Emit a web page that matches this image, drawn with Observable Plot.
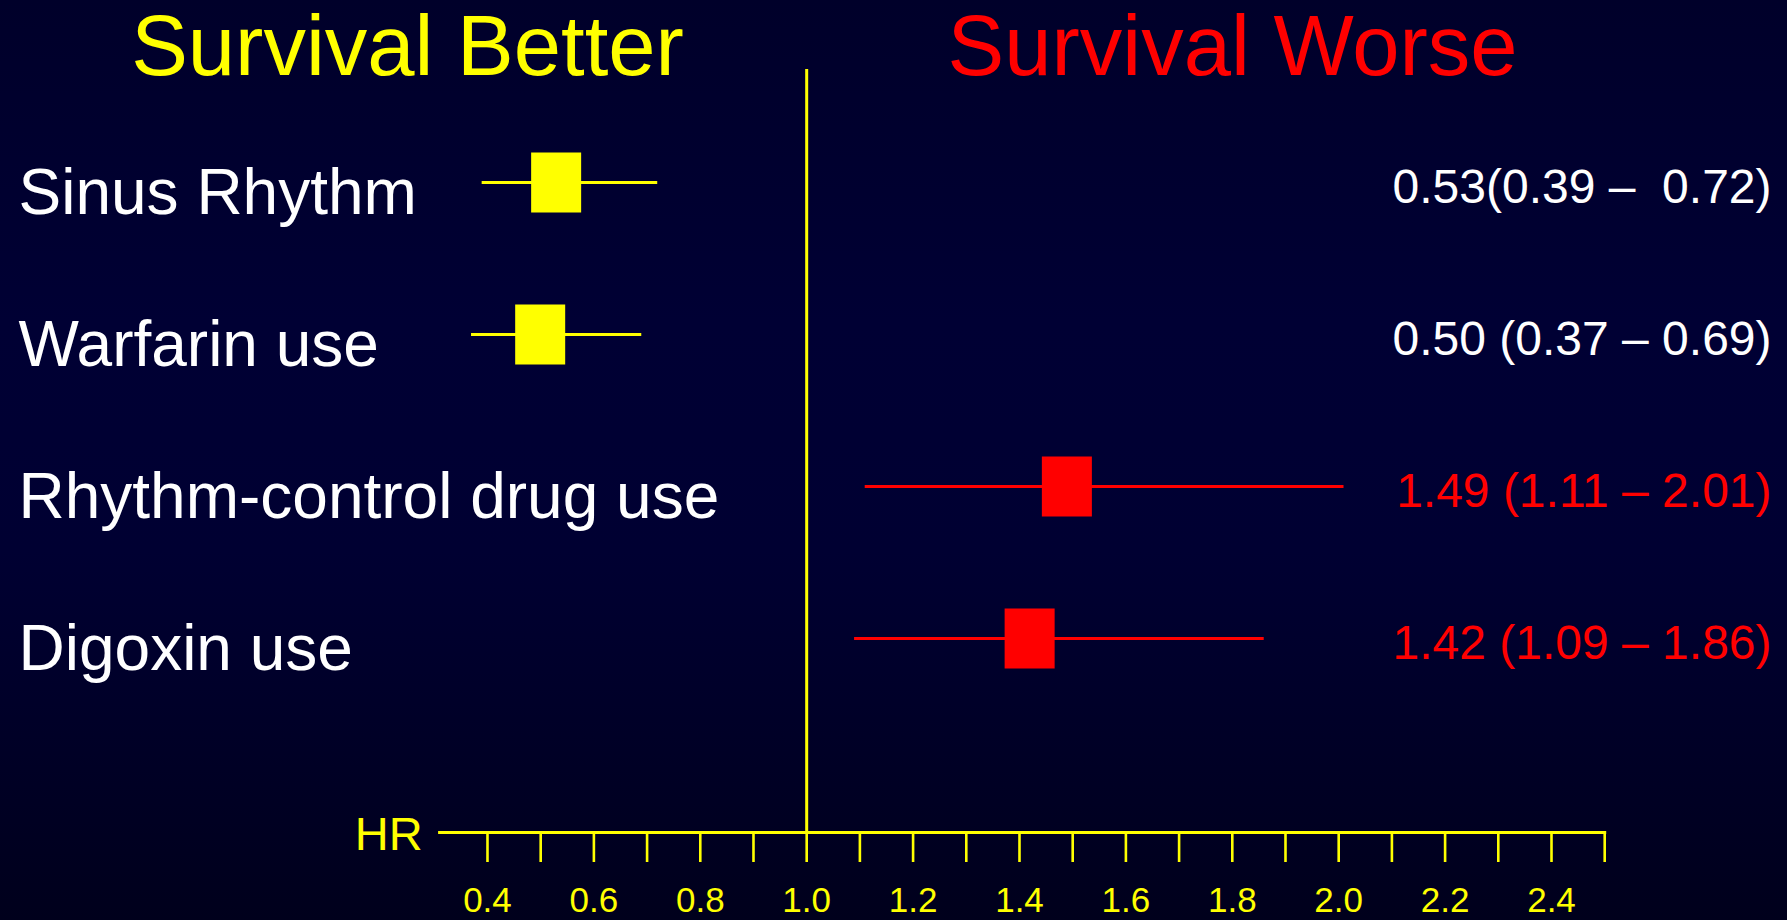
<!DOCTYPE html>
<html>
<head>
<meta charset="utf-8">
<script src="https://cdn.jsdelivr.net/npm/d3@7"></script>
<script src="https://cdn.jsdelivr.net/npm/@observablehq/plot@0.6"></script>
<style>
  html, body { margin: 0; padding: 0; overflow: hidden; }
  body {
    width: 1787px; height: 920px;
    background: linear-gradient(to bottom, #00002a 0%, #000034 35%, #000032 60%, #00001c 100%);
    font-family: "Liberation Sans", Arial, Helvetica, sans-serif;
  }
  svg text { white-space: pre; }
</style>
</head>
<body>
<div id="chart"></div>
<script>
// ---- data ----
const labels = ["Sinus Rhythm", "Warfarin use", "Rhythm-control drug use", "Digoxin use"];
const hr = [0.53, 0.50, 1.49, 1.42];
const lo = [0.39, 0.37, 1.11, 1.09];
const hi = [0.72, 0.69, 2.01, 1.86];
const ciText = ["0.53(0.39 –  0.72)", "0.50 (0.37 – 0.69)", "1.49 (1.11 – 2.01)", "1.42 (1.09 – 1.86)"];
const tickValues = [0.4, 0.5, 0.6, 0.7, 0.8, 0.9, 1.0, 1.1, 1.2, 1.3, 1.4, 1.5, 1.6, 1.7, 1.8, 1.9, 2.0, 2.1, 2.2, 2.3, 2.4, 2.5];
const tickLabels = [0.4, 0.6, 0.8, 1.0, 1.2, 1.4, 1.6, 1.8, 2.0, 2.2, 2.4];
const titleBetter = "Survival Better";
const titleWorse = "Survival Worse";
const axisName = "HR";

// ---- table ----
const rows = labels.map((label, i) => ({label, hr: hr[i], lo: lo[i], hi: hi[i], ci: ciText[i]}));

const YELLOW = "#ffff00", RED = "#ff0000", WHITE = "#ffffff";
const markColor = d => d.hr < 1 ? YELLOW : RED;
const textColor = d => d.hr < 1 ? WHITE : RED;
const FONT = "Liberation Sans, Arial, Helvetica, sans-serif";

const W = 1787, H = 920;
const mL = 439.1, mR = 182.8, mT = 69, mB = 88;

const chart = Plot.plot({
  width: W,
  height: H,
  marginLeft: mL,
  marginRight: mR,
  marginTop: mT,
  marginBottom: mB,
  style: {background: "transparent", color: WHITE, fontFamily: FONT, overflow: "visible"},
  x: {type: "linear", domain: [0.31, 2.5], axis: null},
  y: {type: "point", domain: labels, padding: 0, insetTop: 112.7, insetBottom: 193, axis: null},
  marks: [
    // reference line at HR = 1
    Plot.ruleX([1], {stroke: YELLOW, strokeWidth: 3}),
    // axis baseline
    Plot.frame({anchor: "bottom", stroke: YELLOW, strokeWidth: 3}),
    // ticks every 0.1
    Plot.axisX({ticks: tickValues, tickSize: 30, stroke: YELLOW, strokeWidth: 2.6, fill: "none", label: null}),
    // tick labels
    Plot.axisX({ticks: tickLabels, tickSize: 0, tickPadding: 55, tickFormat: d3.format(".1f"),
      fill: YELLOW, fontSize: 35, label: null}),
    // axis name
    Plot.text([axisName], {frameAnchor: "bottom-left", textAnchor: "end", lineAnchor: "middle",
      dx: -17, dy: 2, fill: YELLOW, fontSize: 47}),
    // confidence intervals
    Plot.ruleY(rows, {y: "label", x1: "lo", x2: "hi", stroke: markColor, strokeWidth: 3}),
    // point estimates (boxes)
    Plot.ruleY(rows, {y: "label", x1: d => d.hr - 0.047, x2: d => d.hr + 0.047,
      stroke: markColor, strokeWidth: 60}),
    // row labels
    Plot.text(rows, {y: "label", text: "label", frameAnchor: "left", textAnchor: "start",
      lineAnchor: "middle", dx: 18 - mL, dy: 11, fill: WHITE, fontSize: 64}),
    // HR (CI) text
    Plot.text(rows, {y: "label", text: "ci", frameAnchor: "right", textAnchor: "end",
      lineAnchor: "middle", dx: 1771 - (W - mR), dy: 5, fill: textColor, fontSize: 48}),
    // headings
    Plot.text([titleBetter], {frameAnchor: "top-left", textAnchor: "middle", lineAnchor: "middle",
      dx: 407 - mL, dy: -22, fill: YELLOW, fontSize: 85}),
    Plot.text([titleWorse], {frameAnchor: "top-left", textAnchor: "middle", lineAnchor: "middle",
      dx: 1232 - mL, dy: -22, fill: RED, fontSize: 85})
  ]
});

document.getElementById("chart").appendChild(chart);
</script>
</body>
</html>
